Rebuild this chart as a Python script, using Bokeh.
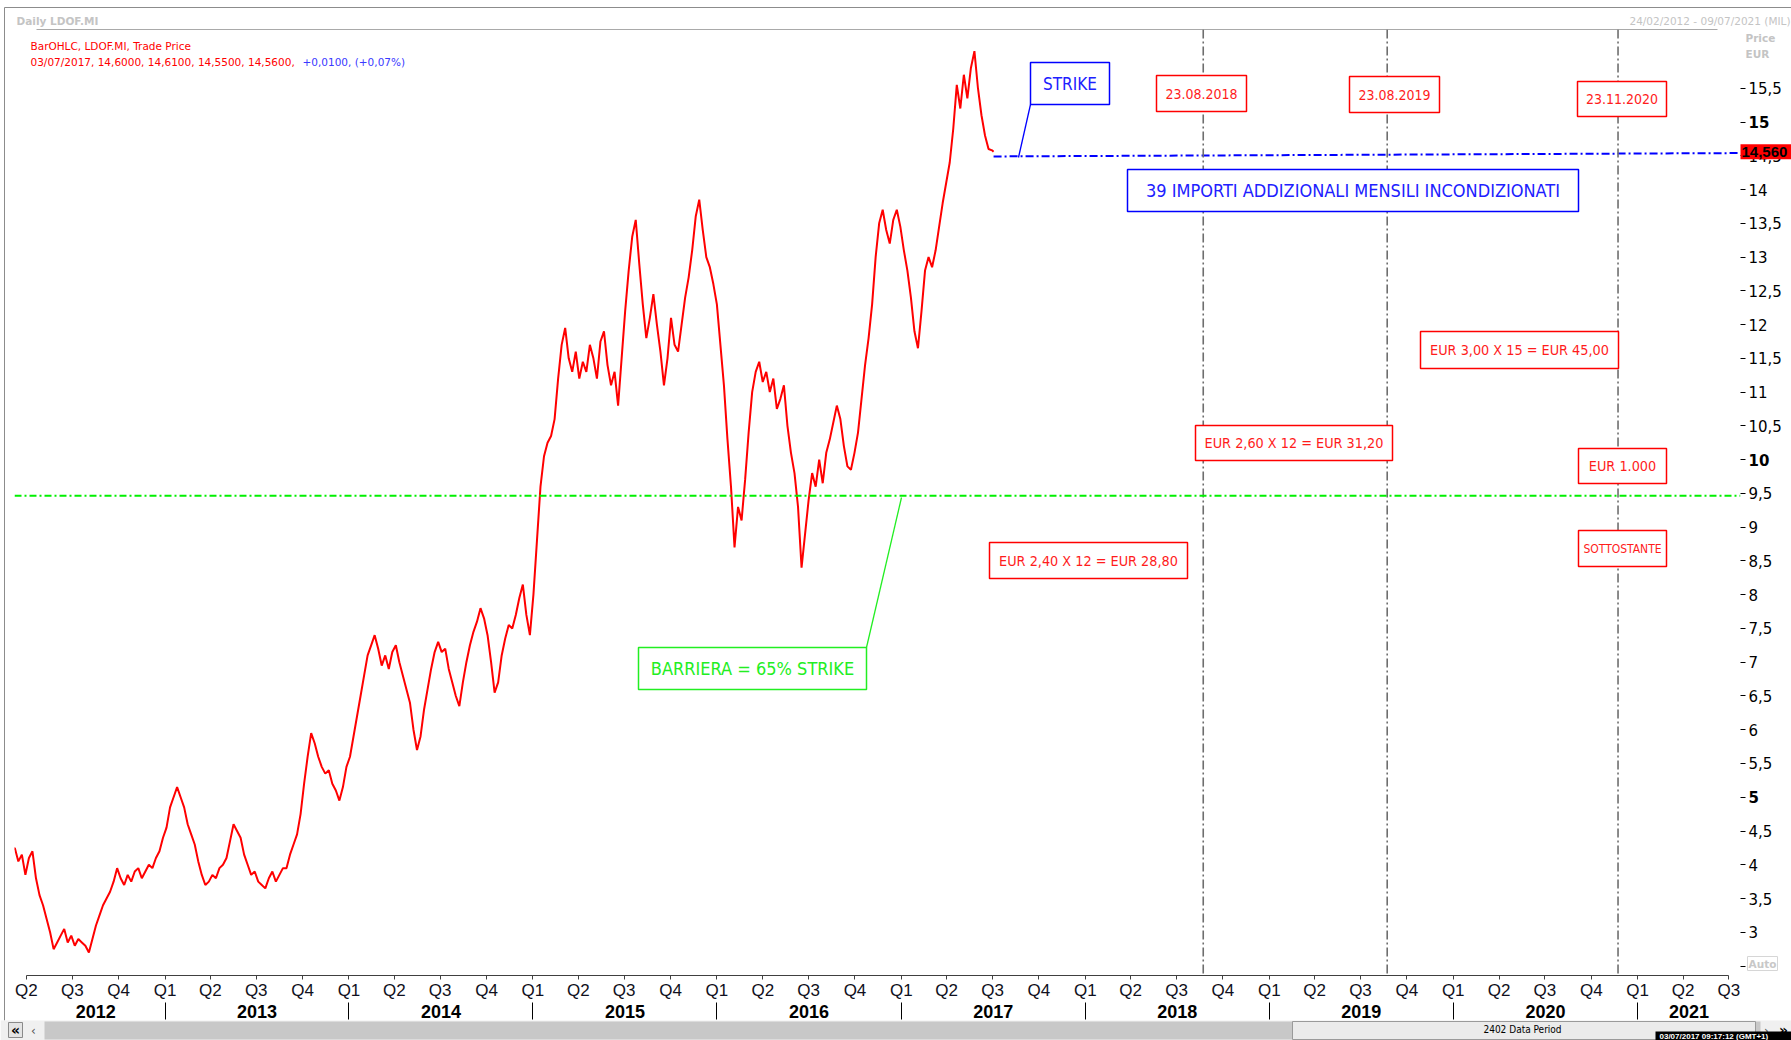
import pandas as pd
from bokeh.plotting import figure
from bokeh.layouts import column
from bokeh.models import (Range1d, LinearAxis, FixedTicker, Span, Label,
                          BoxAnnotation, Arrow, ColumnDataSource)
from bokeh.core.properties import value
from bokeh.embed import file_html
from bokeh.resources import INLINE

# ---------------- data ----------------
ric = "LDOF.MI"
price_start = "2012-02-24"          # first bar, then one reading per week
price_values = [
    4.25, 4.2, 4.25, 4.05, 4.15, 3.85, 4.1, 4.2, 3.8, 3.55,
    3.4, 3.2, 3.0, 2.75, 2.85, 2.95, 3.05, 2.85, 2.95, 2.8,
    2.9, 2.85, 2.8, 2.7, 2.9, 3.1, 3.25, 3.4, 3.5, 3.6,
    3.75, 3.95, 3.8, 3.7, 3.85, 3.75, 3.9, 3.95, 3.8, 3.9,
    4.0, 3.95, 4.1, 4.2, 4.4, 4.55, 4.85, 5.0, 5.15, 5.0,
    4.85, 4.6, 4.45, 4.3, 4.05, 3.85, 3.7, 3.75, 3.85, 3.8,
    3.95, 4.0, 4.1, 4.35, 4.6, 4.5, 4.4, 4.15, 4.0, 3.85,
    3.9, 3.75, 3.7, 3.65, 3.8, 3.9, 3.75, 3.85, 3.95, 3.95,
    4.15, 4.3, 4.45, 4.75, 5.2, 5.6, 5.95, 5.8, 5.6, 5.45,
    5.35, 5.4, 5.2, 5.1, 4.95, 5.15, 5.45, 5.6, 5.9, 6.2,
    6.5, 6.8, 7.1, 7.25, 7.4, 7.2, 6.95, 7.1, 6.9, 7.15,
    7.25, 7.0, 6.8, 6.6, 6.4, 6.0, 5.7, 5.9, 6.3, 6.6,
    6.9, 7.15, 7.3, 7.15, 7.2, 6.9, 6.7, 6.5, 6.35, 6.7,
    7.0, 7.25, 7.45, 7.6, 7.8, 7.65, 7.4, 7.0, 6.55, 6.7,
    7.1, 7.35, 7.55, 7.5, 7.7, 7.95, 8.15, 7.7, 7.4, 8.0,
    8.8, 9.6, 10.05, 10.25, 10.35, 10.6, 11.2, 11.7, 11.95, 11.5,
    11.3, 11.6, 11.2, 11.45, 11.3, 11.7, 11.5, 11.2, 11.75, 11.9,
    11.4, 11.1, 11.3, 10.8, 11.5, 12.2, 12.8, 13.3, 13.55, 12.9,
    12.3, 11.8, 12.1, 12.45, 12.0, 11.6, 11.1, 11.5, 12.1, 11.7,
    11.6, 12.0, 12.4, 12.7, 13.1, 13.6, 13.85, 13.4, 13.0, 12.85,
    12.6, 12.3, 11.7, 11.1, 10.3, 9.6, 8.7, 9.3, 9.1, 9.7,
    10.4, 11.0, 11.3, 11.45, 11.15, 11.3, 11.0, 11.2, 10.75, 10.9,
    11.1, 10.5, 10.1, 9.8, 9.3, 8.4, 8.9, 9.4, 9.8, 9.6,
    10.0, 9.65, 10.1, 10.3, 10.55, 10.8, 10.6, 10.2, 9.9, 9.85,
    10.1, 10.4, 10.9, 11.4, 11.8, 12.3, 13.0, 13.5, 13.7, 13.4,
    13.2, 13.55, 13.7, 13.45, 13.1, 12.8, 12.4, 11.9, 11.65, 12.2,
    12.8, 13.0, 12.85, 13.1, 13.45, 13.8, 14.1, 14.4, 14.9, 15.55,
    15.2, 15.7, 15.35, 15.8, 16.05, 15.5, 15.1, 14.8, 14.6, 14.58,
]
last_date = "2017-07-03"
last_bar = {"open": 14.60, "high": 14.61, "low": 14.55, "close": 14.56}
last_change = 0.01
strike = 14.56
barrier = 0.65 * strike
strike_line_levels = [14.49, 14.54]          # hand-drawn strike trendline (start, end)
event_dates = ["2018-08-23", "2019-08-23", "2020-11-23"]
event_labels = ["23.08.2018", "23.08.2019", "23.11.2020"]
years = list(range(2012, 2022))
price_ticks = [v / 2 for v in range(5, 32)]   # 2.5 ... 15.5
bold_ticks = [5.0, 10.0, 15.0]
view_start, view_end = "2012-03-08 09:00", "2021-07-24"
y_low, y_high = 2.36, 16.37


def ms(d):
    return int(pd.Timestamp(d).value // 10**6)


def it(v):
    s = f"{v:.1f}".replace(".", ",")
    return s[:-2] if s.endswith(",0") else s


dates = list(pd.date_range(price_start, periods=len(price_values), freq="7D")) + [pd.Timestamp(last_date)]
prices = price_values + [last_bar["close"]]
src = ColumnDataSource(dict(date=dates, price=prices))

# ---------------- layout ----------------
W, H = 1791, 1040
FL, FR, FT, FB = 14, 1740, 29, 975
RED, BLUE, GREEN, GREY = "#ff1c1c", "#2020ff", "#22ee22", "#c4c4c4"
NARROW = "DejaVu Sans Condensed, Liberation Sans Narrow, Liberation Sans"

p = figure(width=W, height=H, output_backend="svg", toolbar_location=None,
           x_range=Range1d(pd.Timestamp(view_start), pd.Timestamp(view_end)),
           y_range=Range1d(y_low, y_high),
           x_axis_location=None, y_axis_location=None,
           min_border_left=FL, min_border_right=W - FR,
           min_border_top=FT, min_border_bottom=H - FB)
p.outline_line_color = None
p.background_fill_color = "white"
p.border_fill_color = "white"
p.frame_align = False
for g in p.grid:
    g.visible = False

# right price axis
yax = LinearAxis(ticker=FixedTicker(ticks=price_ticks), axis_line_color=None,
                 major_tick_out=5, major_tick_in=0, minor_tick_out=0, minor_tick_in=0,
                 major_tick_line_color="black", major_label_standoff=3,
                 major_label_text_font="DejaVu Sans", major_label_text_font_size="15px",
                 major_label_text_color="black")
yax.major_label_overrides = {t: ("" if (t in bold_ticks or t < 3) else it(t)) for t in price_ticks}
p.add_layout(yax, "right")

# quarter axis
q_dates = pd.date_range("2012-04-01", "2021-07-01", freq="QS")
q_ms = [ms(d) for d in q_dates]
qax = LinearAxis(ticker=FixedTicker(ticks=q_ms), bounds=(q_ms[0], q_ms[-1]),
                 axis_line_color="#404040", axis_line_width=1,
                 major_tick_out=4, major_tick_in=0, minor_tick_out=0, minor_tick_in=0,
                 major_tick_line_color="#404040", major_label_standoff=1,
                 major_label_text_font="Liberation Sans", major_label_text_font_size="17px",
                 major_label_text_color="#101020")
qax.major_label_overrides = {m: f"Q{d.quarter}" for m, d in zip(q_ms, q_dates)}
p.add_layout(qax, "below")

# year axis
vs, ve = ms(view_start), ms(view_end)
y_mid, y_bounds = [], []
for y in years:
    a, b = max(ms(f"{y}-01-01"), q_ms[0]), min(ms(f"{y + 1}-01-01"), ve)
    y_mid.append((a + b) // 2)
    if y > years[0]:
        y_bounds.append(ms(f"{y}-01-01"))
yrax = LinearAxis(ticker=FixedTicker(ticks=y_mid, minor_ticks=y_bounds), axis_line_color=None,
                  major_tick_out=0, major_tick_in=0, minor_tick_out=17, minor_tick_in=0,
                  minor_tick_line_color="black", major_label_standoff=-15,
                  major_label_text_font="Liberation Sans", major_label_text_font_style="bold",
                  major_label_text_font_size="18px", major_label_text_color="black")
yrax.major_label_overrides = {m: str(y) for m, y in zip(y_mid, years)}
p.add_layout(yrax, "below")

# price series
p.line("date", "price", source=src, line_color="#ff0000", line_width=2.0)

# reference lines
for d in event_dates:
    p.add_layout(Span(location=ms(d), dimension="height", line_color="#6e6e6e",
                      line_width=1.6, line_dash="9 3 2 3"))
p.add_layout(Span(location=barrier, dimension="width", line_color="#00f000",
                  line_width=2, line_dash="7 3 2 3"))
p.segment(x0=[pd.Timestamp(last_date)], y0=[strike_line_levels[0]],
          x1=[pd.Timestamp(view_end)], y1=[strike_line_levels[1]],
          line_color="#0000ff", line_width=2, line_dash="8 3 2 3")


# ------------- annotations inside the plot frame (screen units) -------------
def sx(X):
    return X - FL


def sy(Y):
    return FB - Y


def box(x0, y0, x1, y1, fill="white", line=None, lw=1.0):
    p.add_layout(BoxAnnotation(left=sx(x0), right=sx(x1), top=sy(y0), bottom=sy(y1),
                               left_units="screen", right_units="screen",
                               top_units="screen", bottom_units="screen",
                               fill_color=fill, fill_alpha=1,
                               line_color=line, line_alpha=1 if line else 0, line_width=lw))


def text(X, Y, s, color="black", size="17px", font=NARROW, align="center", style="normal"):
    p.add_layout(Label(x=sx(X), y=sy(Y), x_units="screen", y_units="screen", text=s,
                       text_color=color, text_font_size=size, text_font=font,
                       text_align=align, text_baseline="middle", text_font_style=style))


def seg(x0, y0, x1, y1, color, lw=1.5):
    p.add_layout(Arrow(end=None, x_start=sx(x0), y_start=sy(y0), x_end=sx(x1), y_end=sy(y1),
                       start_units="screen", end_units="screen", line_color=color, line_width=lw))


seg(36, 29, 1717, 29, "#555555", 1)
text(30, 45, f"BarOHLC, {ric}, Trade Price", "#ff0000", "10.5px", "DejaVu Sans", "left")
ohlc = ", ".join(f"{last_bar[k]:.4f}".replace(".", ",") for k in ("open", "high", "low", "close"))
text(30, 61, f"03/07/2017, {ohlc}, ", "#ff0000", "10.5px", "DejaVu Sans", "left")
pct = last_change / (last_bar["close"] - last_change) * 100
text(302, 61, f"+{last_change:.4f}, (+{pct:.2f}%)".replace(".", ","), "#3a3aff", "10.5px", "DejaVu Sans", "left")

notes = [
    (1030, 62, 1109, 104, "STRIKE", BLUE, "17px"),
    (1156, 75, 1246, 111, event_labels[0], RED, "14px"),
    (1349, 76, 1439, 112, event_labels[1], RED, "14px"),
    (1577, 81, 1666, 116, event_labels[2], RED, "14px"),
    (1127, 169, 1578, 211, "39 IMPORTI ADDIZIONALI MENSILI INCONDIZIONATI", BLUE, "18px"),
    (1420, 331, 1618, 368, "EUR 3,00 X 15 = EUR 45,00", RED, "14.3px"),
    (1195, 425, 1392, 460, "EUR 2,60 X 12 = EUR 31,20", RED, "14.3px"),
    (1578, 448, 1666, 483, "EUR 1.000", RED, "14.3px"),
    (1578, 530, 1666, 566, "SOTTOSTANTE", RED, "12px"),
    (989, 542, 1187, 578, "EUR 2,40 X 12 = EUR 28,80", RED, "14.3px"),
    (638, 647, 866, 689, "BARRIERA = 65% STRIKE", GREEN, "18px"),
]
seg(1030, 104, 1018, 157, "#0000ff", 1.3)
seg(866, 647, 901, 497, "#22ee22", 1.3)
for x0, y0, x1, y1, s, c, fs in notes:
    lc = {RED: "#ff0000", BLUE: "#0000ff", GREEN: "#22ee22"}[c]
    box(x0, y0, x1, y1, fill="white", line=lc, lw=1.5)
    text((x0 + x1) / 2, (y0 + y1) / 2, s, c, fs)

# ------------- window chrome: transparent overlay figure in pixel units -------------
o = figure(width=W, height=H, output_backend="svg", toolbar_location=None,
           x_range=Range1d(0, W), y_range=Range1d(H, 0), min_border=0,
           x_axis_type=None, y_axis_type=None, title_location=None)
o.background_fill_alpha = 0
o.border_fill_alpha = 0
o.outline_line_color = None
o.frame_align = False
o.styles = {"position": "absolute", "left": "0px", "top": "0px"}


def py(v):
    return FT + (y_high - v) * (FB - FT) / (y_high - y_low)


def otext(X, Y, s, color="black", size="10.5px", font="DejaVu Sans", align="left", style="normal"):
    o.text(x=[X], y=[Y], text=[s], text_color=color, text_font_size=value(size),
           text_font=value(font), text_align=align, text_baseline="middle",
           text_font_style=style)


def obox(x0, y0, x1, y1, fill=None, line=None, lw=1.0):
    o.quad(left=[x0], right=[x1], top=[y0], bottom=[y1],
           fill_color=fill or "white", fill_alpha=1 if fill else 0,
           line_color=line or "white", line_alpha=1 if line else 0, line_width=lw)


o.segment(x0=[4, 4], y0=[7, 7], x1=[W, 4], y1=[7, 1020], line_color="#8c8c8c", line_width=1)
otext(16, 20, f"Daily {ric}", GREY, style="bold")
otext(1790, 20, "24/02/2012 - 09/07/2021 (MIL)", GREY, align="right")
otext(1745, 37, "Price", GREY, style="bold")
otext(1745, 53, "EUR", GREY, style="bold")
for t in bold_ticks:
    otext(1748, py(t), it(t), "black", "15px", style="bold")
yc = py(last_bar["close"])
obox(1740, yc - 7.5, W + 2, yc + 7.5, fill="#ff0000")
otext(1741, yc, f"{last_bar['close']:.3f}".replace(".", ","), "black", "15px",
      "Liberation Sans", style="bold")
obox(1747, 956, 1777, 970, line="#d6d6d6")
otext(1762, 963, "Auto", "#c8c8c8", align="center", style="bold")

# bottom scroll bar
obox(0, 1020, W, H, fill="#f0f0f0")
obox(44, 1021, 1760, 1039, fill="#c8c8c8")
obox(1292, 1021, 1755, 1039, fill="#ebebeb", line="#9a9a9a")
otext(1522, 1029, "2402 Data Period", "black", "10px", NARROW, "center")
obox(8, 1022, 22, 1037, fill="#e4e4e4", line="#8a8a8a")
otext(15, 1029, "«", "black", "14px", align="center", style="bold")
otext(33, 1030, "‹", "#555555", "12px", align="center")
otext(1766, 1030, "›", "#555555", "12px", align="center")
otext(1783, 1029, "»", "black", "14px", align="center", style="bold")
obox(1655, 1031, W, H + 1, fill="black")
otext(1659, 1035.5, "03/07/2017 09:17:12  (GMT+1)", "white", "8px", "Liberation Sans", style="bold")

root = column(p, o, spacing=0, styles={"position": "relative"})
open("out.html", "w").write(file_html(root, INLINE))
